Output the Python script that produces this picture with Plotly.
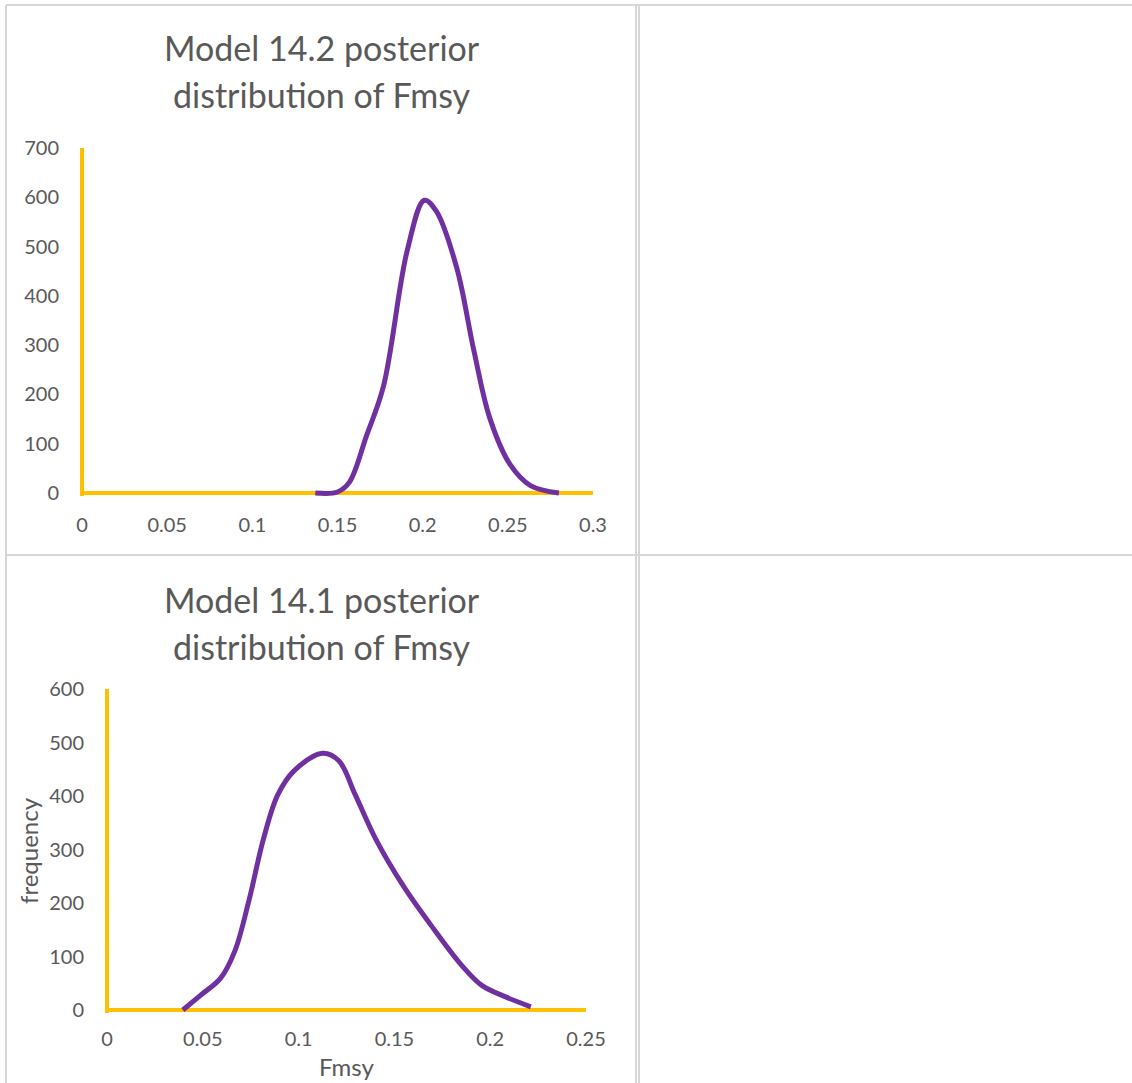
import plotly.graph_objects as go

W, H = 1132, 1083

# Model 14.2 posterior distribution of Fmsy (top chart)
fmsy_142 = [0.137, 0.150, 0.157, 0.167, 0.177, 0.191, 0.201, 0.208, 0.220, 0.230, 0.2394,
            0.2513, 0.2633, 0.280]
freq_142 = [0, 2, 22, 116, 217, 493, 594, 572, 457, 290, 152, 58, 15, 0]

# Model 14.1 posterior distribution of Fmsy (bottom chart)
fmsy_141 = [0.0396, 0.0486, 0.0592, 0.0667, 0.0741, 0.0816, 0.0891, 0.0976, 0.1125, 0.121, 0.1296,
            0.1402, 0.155, 0.170, 0.185, 0.1956, 0.2084, 0.2212]
freq_141 = [0, 27, 59, 110, 205, 319, 402, 447, 480, 466, 402, 320, 230, 154, 84, 46, 24, 6]

x_ticks_142 = [0, 0.05, 0.1, 0.15, 0.2, 0.25, 0.3]
y_ticks_142 = [0, 100, 200, 300, 400, 500, 600, 700]
x_ticks_141 = [0, 0.05, 0.1, 0.15, 0.2, 0.25]
y_ticks_141 = [0, 100, 200, 300, 400, 500, 600]

titles = ["Model 14.2 posterior", "distribution of Fmsy", "Model 14.1 posterior", "distribution of Fmsy"]

PURPLE = "#7030A0"
YELLOW = "#FFC000"
TEXT = "#595959"
GRID = "#d6d6d6"
FONT = "Lato"


def px(x):
    return x / W


def py(y):
    return 1 - y / H


fig = go.Figure()
fig.add_trace(go.Scatter(x=fmsy_142, y=freq_142, mode="lines", xaxis="x", yaxis="y",
                         line=dict(color=PURPLE, width=5, shape="spline", smoothing=1),
                         hoverinfo="x+y", showlegend=False))
fig.add_trace(go.Scatter(x=fmsy_141, y=freq_141, mode="lines", xaxis="x2", yaxis="y2",
                         line=dict(color=PURPLE, width=5, shape="spline", smoothing=1),
                         hoverinfo="x+y", showlegend=False))

tickfont = dict(family=FONT, size=20, color=TEXT)

# top chart geometry: x 0 at 82px, 0.3 at 593px; y 0 at 493px, 700 at 148px
y1_min = -6
y1_bottom_px = 493 + 6 * (345 / 700)
# bottom chart geometry: x 0 at 107px, 0.25 at 586px; y 0 at 1010px, 600 at 689px
y2_min = -6
y2_bottom_px = 1010 + 6 * (321 / 600)

axis_common = dict(showgrid=False, showline=False, zeroline=True, zerolinecolor=YELLOW,
                   zerolinewidth=4, tickfont=tickfont, ticks="", fixedrange=True,
                   automargin=False)

fig.update_layout(
    template="none",
    width=W, height=H,
    margin=dict(l=0, r=0, t=0, b=0, pad=0, autoexpand=False),
    paper_bgcolor="white", plot_bgcolor="white",
    showlegend=False,
    xaxis=dict(domain=[px(82), px(593)], range=[0, 0.3], anchor="y",
               tickvals=x_ticks_142, ticktext=[f"{v:g}" for v in x_ticks_142],
               ticklabelstandoff=15, **axis_common),
    yaxis=dict(domain=[py(y1_bottom_px), py(148)], range=[y1_min, 700], anchor="x",
               tickvals=y_ticks_142, ticklabelstandoff=22, **axis_common),
    xaxis2=dict(domain=[px(107), px(586)], range=[0, 0.25], anchor="y2",
                tickvals=x_ticks_141, ticktext=[f"{v:g}" for v in x_ticks_141],
                ticklabelstandoff=12, **axis_common),
    yaxis2=dict(domain=[py(y2_bottom_px), py(689)], range=[y2_min, 600], anchor="x2",
                tickvals=y_ticks_141, ticklabelstandoff=22, **axis_common),
)

# Titles (two lines each)
title_font = dict(family=FONT, size=34, color=TEXT)
for text, ycen in zip(titles, [47, 94, 599, 646]):
    fig.add_annotation(text=text, xref="paper", yref="paper", x=px(322), y=py(ycen),
                       showarrow=False, font=title_font, xanchor="center", yanchor="middle")

axis_title_font = dict(family=FONT, size=24, color=TEXT)
fig.add_annotation(text="frequency", xref="paper", yref="paper", x=px(28), y=py(851),
                   showarrow=False, font=axis_title_font, textangle=-90,
                   xanchor="center", yanchor="middle")
fig.add_annotation(text="Fmsy", xref="paper", yref="paper", x=px(346), y=py(1066),
                   showarrow=False, font=axis_title_font, xanchor="center", yanchor="middle")

# Spreadsheet cell borders
lines = [
    (6, 5, W, 5),        # top
    (6, 5, 6, H),        # left
    (636, 5, 636, H),    # middle (double)
    (639, 5, 639, H),
    (6, 555, W, 555),    # middle horizontal
]
for x0, y0, x1, y1 in lines:
    fig.add_shape(type="line", xref="paper", yref="paper",
                  x0=px(x0), y0=py(y0), x1=px(x1), y1=py(y1),
                  line=dict(color=GRID, width=2), layer="below")

fig.write_html(
    "out.html",
    config={"displayModeBar": False},
    post_script="document.body.style.margin='0';"
                "document.body.style.overflow='hidden';"
                "document.documentElement.style.overflow='hidden';",
)
